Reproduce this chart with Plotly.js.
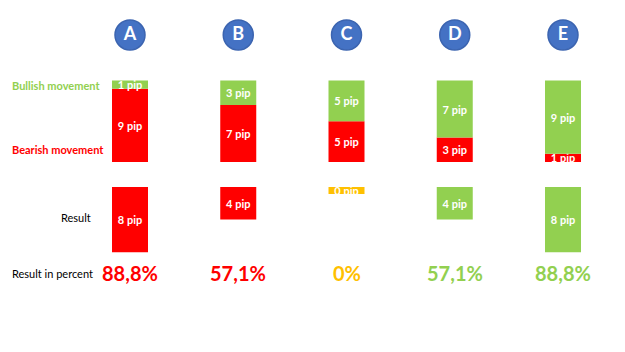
<!DOCTYPE html>
<html><head><meta charset="utf-8">
<script src="https://cdn.plot.ly/plotly-3.0.1.min.js"></script>
<style>html,body{margin:0;padding:0;background:#fff}#c{width:625px;height:352px}</style>
</head><body><div id="c"></div>
<script>
const categories = ['A','B','C','D','E'];
const bullish = [1,3,5,7,9];
const bearish = [9,7,5,3,1];
const result = [8,4,0,4,8];
const percentLabels = ['88,8%','57,1%','0%','57,1%','88,8%'];
const rowLabels = ['Bullish movement','Bearish movement','Result','Result in percent'];

const RED='#FF0000', GREEN='#92D050', ORANGE='#FFC000', BLUE='#4472C4';
const W=625, H=352;
const PX_PER_PIP=8.15, ZERO_PX=162;           // bottom of the top stack
const X0_PX=130, X_STEP=108.25;
const pxToY = p => (ZERO_PX - p)/PX_PER_PIP;
const pxToX = p => (p - X0_PX)/X_STEP;
const xs = categories.map((c,i)=>i);
const resultBase = pxToY(187);
const resultColor = bullish.map((b,i)=> b>bearish[i]?GREEN:(b<bearish[i]?RED:ORANGE));
const barW = 36/X_STEP;
const font = 'Lato, "Open Sans", sans-serif';

const traces = [
 {type:'bar', x:xs, y:bearish, base:xs.map(()=>0), width:barW,
  marker:{color:RED, line:{width:0}}, text:bearish.map(v=>v+' pip'),
  textposition:'inside', insidetextanchor:'middle', constraintext:'none',
  textfont:{color:'#fff', size:11, family:font, weight:'bold'}, hoverinfo:'skip'},
 {type:'bar', x:xs, y:bullish, base:bearish, width:barW,
  marker:{color:GREEN, line:{width:0}}, text:bullish.map(v=>v+' pip'),
  textposition:'inside', insidetextanchor:'middle', constraintext:'none',
  textfont:{color:'#fff', size:11, family:font, weight:'bold'}, hoverinfo:'skip'},
 {type:'bar', x:xs, y:result.map(v=>-Math.max(v,0.85)), base:xs.map(()=>resultBase), width:barW,
  marker:{color:resultColor, line:{width:0}}, text:result.map(v=>v+' pip'),
  textposition:'inside', insidetextanchor:'middle', constraintext:'none',
  textfont:{color:'#fff', size:11, family:font, weight:'bold'}, hoverinfo:'skip'},
 {type:'scatter', mode:'markers+text', x:xs, y:xs.map(()=>pxToY(35)), text:categories,
  marker:{size:30, color:BLUE, line:{color:'#3B64B0', width:1.5}},
  textposition:'middle center', textfont:{color:'#fff', size:18, family:font, weight:'bold'}, hoverinfo:'skip'}
];

const ann = [];
ann.push({x:10/W, xref:'paper', xanchor:'left', y:pxToY(85), yref:'y', text:rowLabels[0], showarrow:false,
  font:{family:font, size:11, color:GREEN, weight:'bold'}});
ann.push({x:10/W, xref:'paper', xanchor:'left', y:pxToY(149), yref:'y', text:rowLabels[1], showarrow:false,
  font:{family:font, size:11, color:RED, weight:'bold'}});
ann.push({x:93/W, xref:'paper', xanchor:'right', y:pxToY(217), yref:'y', text:rowLabels[2], showarrow:false,
  font:{family:font, size:11, color:'#000'}});
ann.push({x:10/W, xref:'paper', xanchor:'left', y:pxToY(273), yref:'y', text:rowLabels[3], showarrow:false,
  font:{family:font, size:11, color:'#000'}});
percentLabels.forEach((t,i)=>ann.push({x:i, y:pxToY(273), text:t, showarrow:false,
  font:{family:font, size:20, color:resultColor[i], weight:'bold'}}));

const layout = {
  width:W, height:H, margin:{l:0,r:0,t:0,b:0}, paper_bgcolor:'#fff', plot_bgcolor:'#fff',
  barmode:'overlay', showlegend:false,
  xaxis:{range:[pxToX(0), pxToX(W)], visible:false, fixedrange:true},
  yaxis:{range:[pxToY(H), pxToY(0)], visible:false, fixedrange:true},
  annotations:ann
};
Plotly.newPlot('c', traces, layout, {displayModeBar:false, staticPlot:true});
</script></body></html>
